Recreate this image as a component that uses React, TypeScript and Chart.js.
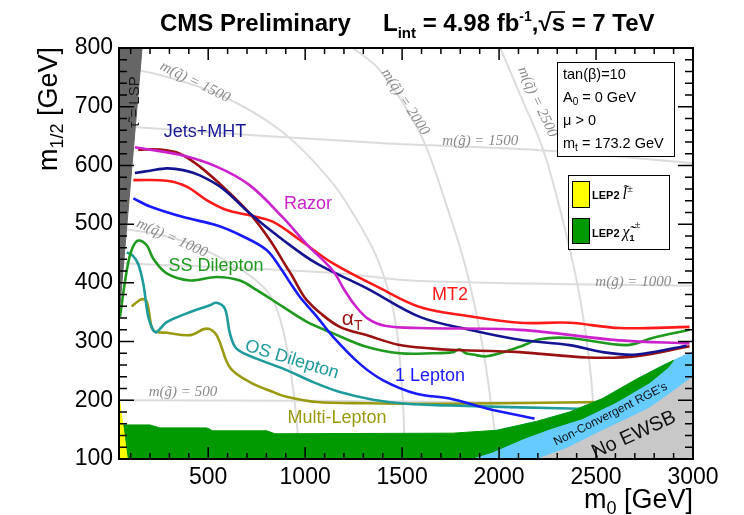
import React, { useEffect, useRef } from "react";
import { Chart, registerables } from "chart.js";

Chart.register(...registerables);

type P = [number, number];

// Axis ranges and tick values
const xRange: P = [40, 3000];
const yRange: P = [100, 800];
const xTicks = [500, 1000, 1500, 2000, 2500, 3000];
const yTicks = [100, 200, 300, 400, 500, 600, 700, 800];

// Observed exclusion limits (m0, m1/2) in GeV
const razor: P[] = [[122, 631], [354, 618], [543, 598], [715, 566], [886, 511], [1007, 466], [1142, 421], [1204, 387], [1256, 362], [1323, 339], [1410, 327], [1591, 323], [2106, 320], [2621, 302], [2982, 297]];
const jetsMHT: P[] = [[122, 587], [200, 591], [286, 595], [371, 592], [457, 583], [577, 560], [715, 518], [886, 473], [1059, 433], [1316, 391], [1591, 342], [1848, 320], [2106, 303], [2364, 294], [2534, 282], [2709, 278], [2967, 293]];
const mt2: P[] = [[114, 575], [286, 574], [389, 564], [492, 541], [595, 524], [715, 515], [835, 504], [973, 473], [1144, 433], [1386, 391], [1591, 359], [1848, 343], [2106, 332], [2364, 332], [2621, 323], [2982, 325]];
const alphaT: P[] = [[139, 627], [251, 627], [354, 620], [457, 598], [595, 558], [715, 518], [818, 473], [904, 427], [931, 413], [973, 388], [1007, 371], [1076, 349], [1179, 325], [1316, 311], [1488, 294], [1659, 288], [1745, 286], [2106, 282], [2451, 273], [2709, 275], [2982, 292]];
const oneLepton: P[] = [[114, 544], [200, 530], [371, 512], [543, 498], [680, 479], [801, 456], [869, 427], [931, 396], [973, 376], [1059, 343], [1144, 308], [1282, 262], [1402, 234], [1574, 211], [1745, 203], [1936, 186], [2183, 169]];
const ssDilepton: P[] = [[45, 342], [80, 421], [105, 456], [139, 472], [183, 464], [217, 441], [286, 416], [406, 404], [543, 410], [663, 404], [749, 388], [886, 359], [1007, 334], [1144, 314], [1316, 291], [1488, 280], [1659, 280], [1761, 282], [1797, 287], [1828, 280], [1864, 278], [1936, 275], [2106, 291], [2209, 304], [2364, 306], [2657, 294], [2791, 306], [2982, 320]];
const osDilepton: P[] = [[80, 452], [112, 446], [139, 432], [165, 399], [191, 342], [217, 319], [234, 316], [286, 333], [389, 348], [509, 362], [543, 366], [586, 356], [612, 314], [646, 288], [749, 271], [886, 254], [1041, 231], [1179, 214], [1350, 201], [1522, 194], [1745, 191], [2364, 186], [2467, 185]];
const multiLepton: P[] = [[105, 360], [157, 372], [183, 368], [208, 325], [225, 317], [286, 315], [406, 311], [492, 322], [543, 311], [612, 256], [715, 231], [835, 214], [904, 206], [1059, 197], [1316, 195], [1745, 194], [2518, 197], [2570, 197]];

// Excluded / theoretically forbidden regions (polygon outlines)
const stauLSP: P[] = [[40, 800], [159, 800], [40, 342]];
const lepSlepton: P[] = [[40, 208], [83, 100], [40, 100]];
const lepChargino: P[] = [[40, 158], [200, 158], [251, 153], [493, 153], [524, 148], [802, 148], [844, 143], [1761, 144], [1990, 149], [2193, 164], [2364, 180], [2534, 203], [2709, 236], [2843, 259], [2900, 268], [2872, 256], [2776, 230], [2606, 197], [2431, 169], [2260, 151], [2121, 134], [1967, 112], [1850, 100], [40, 100]];
const nonConvergent: P[] = [[1800, 100], [1800, 140], [1990, 149], [2193, 164], [2364, 180], [2534, 203], [2709, 236], [2843, 259], [2900, 268], [2960, 277], [3000, 283], [3000, 100]];
const noEWSB: P[] = [[2199, 100], [2348, 118], [2451, 135], [2518, 146], [2709, 176], [2776, 187], [2879, 211], [2950, 228], [3000, 240], [3000, 100]];

// Iso-mass contours of squarks and gluinos
const squark1000: P[] = [[40, 493], [200, 485], [355, 473], [509, 452], [690, 418], [819, 379], [886, 320], [938, 218], [974, 100]];
const squark1500: P[] = [[40, 768], [251, 754], [561, 720], [871, 660], [1129, 575], [1283, 498], [1386, 430], [1464, 337], [1500, 218], [1516, 100]];
const squark2000: P[] = [[1247, 800], [1386, 762], [1592, 655], [1732, 529], [1835, 417], [1918, 286], [1970, 166], [1996, 100]];
const squark2500: P[] = [[2006, 800], [2109, 720], [2228, 626], [2341, 490], [2419, 371], [2470, 252], [2506, 100]];
const gluino500: P[] = [[40, 200], [1024, 199], [3000, 194]];
const gluino1000: P[] = [[40, 434], [1140, 417], [1591, 403], [3000, 395]];
const gluino1500: P[] = [[40, 667], [1385, 638], [2209, 626], [3000, 604]];

const SANS = "'Liberation Sans', Arial, Helvetica, sans-serif";
const SERIF = "'Liberation Serif', 'Times New Roman', serif";

const toPts = (pts: P[]) => pts.map(([x, y]) => ({ x, y }));

const curve = (label: string, pts: P[], color: string) => ({
  label,
  data: toPts(pts),
  showLine: true,
  borderColor: color,
  backgroundColor: color,
  borderWidth: 2.6,
  pointRadius: 0,
  pointHoverRadius: 0,
  tension: 0.35,
  fill: false,
});

const region = (label: string, pts: P[], color: string) => ({
  label,
  data: toPts(pts),
  showLine: true,
  borderColor: color,
  backgroundColor: color,
  borderWidth: 1,
  pointRadius: 0,
  pointHoverRadius: 0,
  tension: 0,
  fill: "shape",
});

const contour = (label: string, pts: P[]) => ({
  label,
  data: toPts(pts),
  showLine: true,
  borderColor: "#dcdcdc",
  borderWidth: 2,
  pointRadius: 0,
  pointHoverRadius: 0,
  tension: 0.35,
  fill: false,
});

type Seg = { t: string; f: string; dy?: number; over?: boolean };

function segsWidth(ctx: CanvasRenderingContext2D, segs: Seg[]) {
  let w = 0;
  for (const s of segs) {
    ctx.font = s.f;
    w += ctx.measureText(s.t).width;
  }
  return w;
}

function drawSegs(ctx: CanvasRenderingContext2D, segs: Seg[], x: number, y: number, align: "left" | "center" | "right" = "left") {
  const w = segsWidth(ctx, segs);
  let cx = align === "left" ? x : align === "center" ? x - w / 2 : x - w;
  ctx.textAlign = "left";
  ctx.textBaseline = "alphabetic";
  for (const s of segs) {
    ctx.font = s.f;
    const sw = ctx.measureText(s.t).width;
    ctx.fillText(s.t, cx, y + (s.dy || 0));
    if (s.over) {
      ctx.save();
      ctx.lineWidth = 1.6;
      ctx.strokeStyle = ctx.fillStyle as string;
      ctx.beginPath();
      ctx.moveTo(cx - 1, y - 19);
      ctx.lineTo(cx + sw, y - 19);
      ctx.stroke();
      ctx.restore();
    }
    cx += sw;
  }
}

const decorations = {
  id: "decorations",
  afterDatasetsDraw(chart: any) {
    const { ctx, chartArea: a } = chart;
    const xs = chart.scales.x;
    const ys = chart.scales.y;
    const X = (v: number) => xs.getPixelForValue(v);
    const Y = (v: number) => ys.getPixelForValue(v);

    ctx.save();
    ctx.beginPath();
    ctx.rect(a.left, a.top, a.right - a.left, a.bottom - a.top);
    ctx.clip();

    // contour labels
    const isoLabels = [
      { t: "m(q\u0303) = 1500", x: 432, y: 742, a: 26 },
      { t: "m(q\u0303) = 1000", x: 313, y: 476, a: 24 },
      { t: "m(q\u0303) = 2000", x: 1516, y: 708, a: 57 },
      { t: "m(q\u0303) = 2500", x: 2197, y: 708, a: 65 },
      { t: "m(g\u0303) = 1500", x: 1903, y: 642, a: 0 },
      { t: "m(g\u0303) = 1000", x: 2692, y: 401, a: 0 },
      { t: "m(g\u0303) = 500", x: 370, y: 214, a: 0 },
    ];
    ctx.fillStyle = "#8a8a8a";
    ctx.font = `italic 15px ${SERIF}`;
    ctx.textAlign = "center";
    ctx.textBaseline = "middle";
    for (const l of isoLabels) {
      ctx.save();
      ctx.translate(X(l.x), Y(l.y));
      ctx.rotate((l.a * Math.PI) / 180);
      ctx.fillText(l.t, 0, 0);
      ctx.restore();
    }

    // analysis labels
    const f18 = `18px ${SANS}`;
    const tags = [
      { t: "Jets+MHT", x: 484, y: 657, c: "#1a1a99", r: 0 },
      { t: "Razor", x: 1015, y: 534, c: "#cc22cc", r: 0 },
      { t: "SS Dilepton", x: 540, y: 429, c: "#1f9a1f", r: 0 },
      { t: "MT2", x: 1747, y: 379, c: "#ff1a1a", r: 0 },
      { t: "OS Dilepton", x: 932, y: 269, c: "#1f9b9b", r: 17 },
      { t: "1 Lepton", x: 1644, y: 241, c: "#1a1aff", r: 0 },
      { t: "Multi-Lepton", x: 1164, y: 170, c: "#9a9a10", r: 0 },
    ];
    ctx.font = f18;
    for (const l of tags) {
      ctx.save();
      ctx.fillStyle = l.c;
      ctx.translate(X(l.x), Y(l.y));
      ctx.rotate((l.r * Math.PI) / 180);
      ctx.fillText(l.t, 0, 0);
      ctx.restore();
    }
    ctx.fillStyle = "#991111";
    drawSegs(ctx, [{ t: "\u03b1", f: `21px ${SANS}` }, { t: "T", f: `14px ${SANS}`, dy: 5 }], X(1242), Y(340) + 7, "center");

    // region labels
    ctx.fillStyle = "#111";
    ctx.textAlign = "center";
    ctx.textBaseline = "middle";
    ctx.save();
    ctx.translate(X(2575), Y(176));
    ctx.rotate((-27 * Math.PI) / 180);
    ctx.font = `12px ${SANS}`;
    ctx.fillText("Non-Convergent RGE's", 0, 0);
    ctx.restore();
    ctx.save();
    ctx.translate(X(2695), Y(141));
    ctx.rotate((-24.5 * Math.PI) / 180);
    ctx.font = `20px ${SANS}`;
    ctx.fillText("No EWSB", 0, 0);
    ctx.restore();
    ctx.save();
    ctx.translate(X(123), Y(708));
    ctx.rotate(-Math.PI / 2);
    ctx.fillStyle = "#1a1a1a";
    ctx.font = `15px ${SANS}`;
    ctx.fillText("\u03c4\u0303 = LSP", 0, 0);
    ctx.restore();
    ctx.restore();

    // frame and inward ticks on all four sides
    ctx.save();
    ctx.strokeStyle = "#000";
    ctx.lineWidth = 1.5;
    ctx.beginPath();
    for (let v = 100; v < xRange[1]; v += 100) {
      if (v < xRange[0]) continue;
      const len = v % 500 === 0 ? 12 : 6;
      const px = X(v);
      ctx.moveTo(px, a.bottom);
      ctx.lineTo(px, a.bottom - len);
      ctx.moveTo(px, a.top);
      ctx.lineTo(px, a.top + len);
    }
    for (let v = yRange[0] + 20; v < yRange[1]; v += 20) {
      const len = v % 100 === 0 ? 15 : 8;
      const py = Y(v);
      ctx.moveTo(a.left, py);
      ctx.lineTo(a.left + len, py);
      ctx.moveTo(a.right, py);
      ctx.lineTo(a.right - len, py);
    }
    ctx.stroke();
    ctx.lineWidth = 2;
    ctx.strokeRect(a.left, a.top, a.right - a.left, a.bottom - a.top);
    ctx.restore();

    // parameter box
    ctx.save();
    ctx.fillStyle = "#fff";
    ctx.strokeStyle = "#000";
    ctx.lineWidth = 1;
    const bx = a.right - 136;
    ctx.fillRect(bx, 62, 117, 94);
    ctx.strokeRect(bx + 0.5, 62.5, 117, 94);
    ctx.fillStyle = "#000";
    const f15 = `14.5px ${SANS}`;
    const f10 = `10px ${SANS}`;
    drawSegs(ctx, [{ t: "tan(\u03b2)=10", f: f15 }], bx + 6, 79);
    drawSegs(ctx, [{ t: "A", f: f15 }, { t: "0", f: f10, dy: 3 }, { t: " = 0 GeV", f: f15 }], bx + 6, 102);
    drawSegs(ctx, [{ t: "\u03bc > 0", f: f15 }], bx + 6, 125);
    drawSegs(ctx, [{ t: "m", f: f15 }, { t: "t", f: f10, dy: 3 }, { t: " = 173.2 GeV", f: f15 }], bx + 6, 148);

    // LEP2 legend
    const lx = a.right - 125;
    ctx.fillStyle = "#fff";
    ctx.fillRect(lx, 175, 101, 74);
    ctx.strokeRect(lx + 0.5, 175.5, 101, 74);
    ctx.fillStyle = "#ffff00";
    ctx.fillRect(lx + 4, 181, 17, 26);
    ctx.strokeRect(lx + 4.5, 181.5, 17, 26);
    ctx.fillStyle = "#009900";
    ctx.fillRect(lx + 4, 218, 17, 25);
    ctx.strokeRect(lx + 4.5, 218.5, 17, 25);
    ctx.fillStyle = "#000";
    const fb = `bold 11px ${SANS}`;
    const fi = `italic 16px ${SERIF}`;
    drawSegs(ctx, [{ t: "LEP2 ", f: fb }, { t: "l\u0303", f: fi }, { t: "\u00b1", f: `11px ${SERIF}`, dy: -7 }], lx + 24, 199);
    drawSegs(ctx, [{ t: "LEP2 ", f: fb }, { t: "\u03c7\u0303", f: fi }, { t: "1", f: `bold 9px ${SANS}`, dy: 4 }, { t: "\u00b1", f: `11px ${SERIF}`, dy: -9 }], lx + 24, 237);
    ctx.restore();
  },
  afterDraw(chart: any) {
    const { ctx, chartArea: a } = chart;
    ctx.save();
    ctx.fillStyle = "#000";
    // title
    const tb = `bold 24px ${SANS}`;
    drawSegs(ctx, [{ t: "CMS Preliminary", f: tb }], 160, 31);
    drawSegs(
      ctx,
      [
        { t: "L", f: tb },
        { t: "int", f: `bold 15px ${SANS}`, dy: 7 },
        { t: " = 4.98 fb", f: tb },
        { t: "-1", f: `bold 14px ${SANS}`, dy: -10 },
        { t: ",\u221a", f: tb },
        { t: "s", f: tb, over: true },
        { t: " = 7 TeV", f: tb },
      ],
      383,
      31
    );
    // x-axis title
    const t27 = `27px ${SANS}`;
    drawSegs(ctx, [{ t: "m", f: t27 }, { t: "0", f: `18px ${SANS}`, dy: 6 }, { t: " [GeV]", f: t27 }], a.right, 508, "right");
    // y-axis title
    const ySegs: Seg[] = [{ t: "m", f: t27 }, { t: "1/2", f: `18px ${SANS}`, dy: 6 }, { t: " [GeV]", f: t27 }];
    ctx.translate(57, a.top - 1);
    ctx.rotate(-Math.PI / 2);
    drawSegs(ctx, ySegs, 0, 0, "right");
    ctx.restore();
  },
};

export default function App() {
  const ref = useRef<HTMLCanvasElement>(null);

  useEffect(() => {
    if (!ref.current) return;
    const chart = new Chart(ref.current, {
      type: "scatter",
      data: {
        datasets: [
          region("LEP2 slepton", lepSlepton, "#ffff00"),
          region("No EWSB", noEWSB, "#c8c8c8"),
          region("LEP2 chargino", lepChargino, "#009900"),
          region("Non-convergent RGE", nonConvergent, "#66ccff"),
          region("stau LSP", stauLSP, "#666666"),
          curve("Razor", razor, "#cc22cc"),
          curve("Jets+MHT", jetsMHT, "#141490"),
          curve("MT2", mt2, "#ff1a1a"),
          curve("alphaT", alphaT, "#991111"),
          curve("1 Lepton", oneLepton, "#1a1aff"),
          curve("SS Dilepton", ssDilepton, "#1f9a1f"),
          curve("OS Dilepton", osDilepton, "#1f9b9b"),
          curve("Multi-Lepton", multiLepton, "#9a9a10"),
          contour("squark 1000", squark1000),
          contour("squark 1500", squark1500),
          contour("squark 2000", squark2000),
          contour("squark 2500", squark2500),
          contour("gluino 500", gluino500),
          contour("gluino 1000", gluino1000),
          contour("gluino 1500", gluino1500),
        ] as any,
      },
      options: {
        animation: false,
        responsive: false,
        devicePixelRatio: 1,
        layout: { padding: { top: 48, right: 51, left: 0, bottom: 0 } },
        plugins: {
          legend: { display: false },
          tooltip: { enabled: false },
          title: { display: false },
        },
        scales: {
          x: {
            type: "linear",
            position: "bottom",
            min: xRange[0],
            max: xRange[1],
            grid: { display: false, drawTicks: false },
            border: { display: false },
            afterBuildTicks: (s: any) => {
              s.ticks = xTicks.map((value) => ({ value }));
            },
            afterFit: (s: any) => {
              s.height = 56;
            },
            ticks: {
              autoSkip: false,
              maxRotation: 0,
              padding: 5,
              color: "#000",
              font: { family: SANS, size: 23 },
              callback: (v: any) => String(v),
            },
          },
          y: {
            type: "linear",
            position: "left",
            min: yRange[0],
            max: yRange[1],
            grid: { display: false, drawTicks: false },
            border: { display: false },
            afterBuildTicks: (s: any) => {
              s.ticks = yTicks.map((value) => ({ value }));
            },
            afterFit: (s: any) => {
              s.width = 119;
            },
            ticks: {
              autoSkip: false,
              padding: 6,
              color: "#000",
              font: { family: SANS, size: 23 },
              callback: (v: any) => String(v),
            },
          },
        },
      } as any,
      plugins: [decorations],
    });
    return () => chart.destroy();
  }, []);

  return (
    <div style={{ position: "absolute", left: 0, top: 0, width: 744, height: 515, background: "#fff" }}>
      <canvas ref={ref} width={744} height={515} style={{ display: "block", width: 744, height: 515 }} />
    </div>
  );
}
